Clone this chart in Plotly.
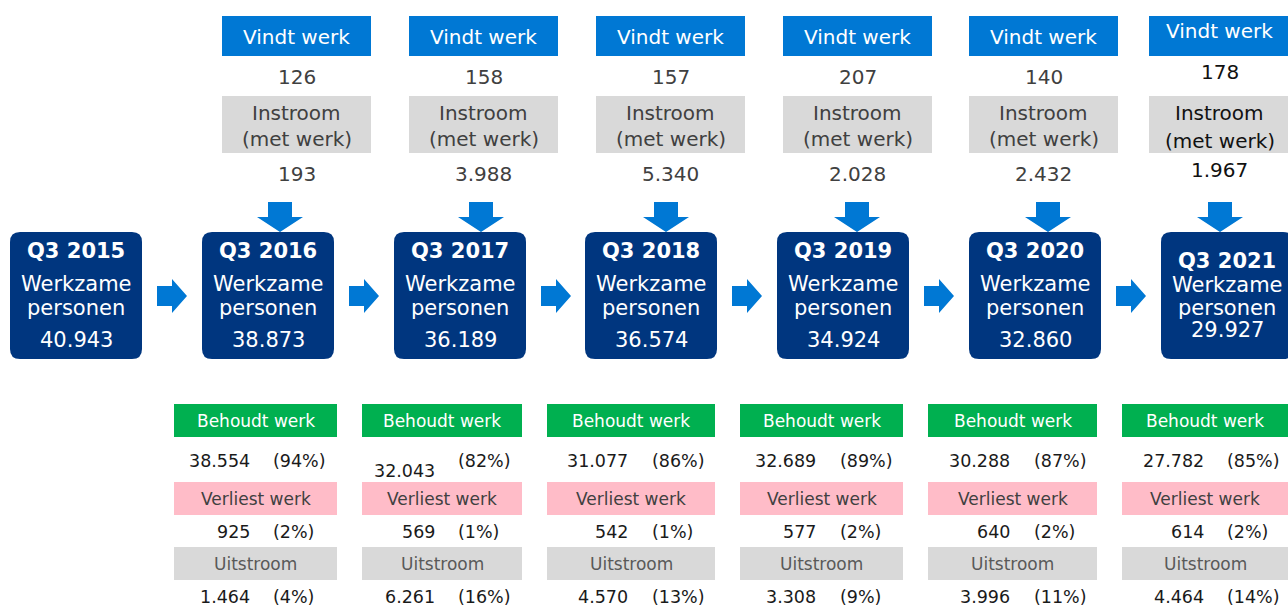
import plotly.graph_objects as go

# ---------------- data ----------------
quarters = ["Q3 2015", "Q3 2016", "Q3 2017", "Q3 2018", "Q3 2019", "Q3 2020", "Q3 2021"]
werkzame = [40943, 38873, 36189, 36574, 34924, 32860, 29927]
vindt_werk = [126, 158, 157, 207, 140, 178]
instroom = [193, 3988, 5340, 2028, 2432, 1967]
behoudt = [38554, 32043, 31077, 32689, 30288, 27782]
behoudt_pct = [94, 82, 86, 89, 87, 85]
verliest = [925, 569, 542, 577, 640, 614]
verliest_pct = [2, 1, 1, 2, 2, 2]
uitstroom = [1464, 6261, 4570, 3308, 3996, 4464]
uitstroom_pct = [4, 16, 13, 9, 11, 14]

# ---------------- layout (positions in page pixels) ----------------
W, H = 1288, 608
box_left = [10, 202, 394, 585, 777, 969, 1161]
box_w, box_top, box_bot = 132, 232, 359
top_left = [222, 409, 596, 783, 969, 1149]
top_w = 149
arrow_cx = [280, 481, 666, 857, 1048, 1220]
bot_left = [174, 362, 547, 740, 928, 1122]
bot_right = [337, 522, 715, 903, 1097, 1290]
val_right = [252, 437, 630, 818, 1012, 1206]
pct_left = [271, 456, 650, 838, 1032, 1225]

NAVY = "#00367F"
BLUE = "#0078D4"
GREEN = "#00B050"
PINK = "#FFBCC8"
GREY = "#D9D9D9"
FONT = "DejaVu Sans"


def fmt(v):
    return f"{v:,}".replace(",", ".")


shapes = []
annotations = []


def text(x, y, s, size, color, xanchor="center", bold=False):
    annotations.append(dict(
        x=x, y=y, xref="x", yref="y", text=f"<b>{s}</b>" if bold else s,
        showarrow=False, xanchor=xanchor, yanchor="middle",
        font=dict(family=FONT, size=size, color=color)))


def rect(x0, y0, x1, y1, color):
    shapes.append(dict(type="rect", xref="x", yref="y", x0=x0, y0=y0, x1=x1, y1=y1,
                       fillcolor=color, line=dict(width=0), layer="below"))


def rounded(x0, y0, x1, y1, r, color):
    p = (f"M {x0+r},{y0} L {x1-r},{y0} Q {x1},{y0} {x1},{y0+r} "
         f"L {x1},{y1-r} Q {x1},{y1} {x1-r},{y1} L {x0+r},{y1} "
         f"Q {x0},{y1} {x0},{y1-r} L {x0},{y0+r} Q {x0},{y0} {x0+r},{y0} Z")
    shapes.append(dict(type="path", xref="x", yref="y", path=p,
                       fillcolor=color, line=dict(width=0), layer="below"))


def path(pts, color):
    p = "M " + " L ".join(f"{x},{y}" for x, y in pts) + " Z"
    shapes.append(dict(type="path", xref="x", yref="y", path=p,
                       fillcolor=color, line=dict(width=0), layer="below"))


# dark boxes with Werkzame personen
for i, q in enumerate(quarters):
    x0 = box_left[i]
    cx = x0 + box_w / 2
    rounded(x0, box_top, x0 + box_w, box_bot, 10, NAVY)
    last = i == len(quarters) - 1
    ys = [261, 285, 308, 330] if last else [251, 284, 308, 340]
    text(cx, ys[0], q, 21, "white", bold=True)
    text(cx, ys[1], "Werkzame", 21, "white")
    text(cx, ys[2], "personen", 21, "white")
    text(cx, ys[3], fmt(werkzame[i]), 21, "white")
    # right arrow to next box
    if i < len(quarters) - 1:
        ax = x0 + box_w + 15
        cy = 296
        path([(ax, cy - 10), (ax + 15, cy - 10), (ax + 15, cy - 17), (ax + 30, cy),
              (ax + 15, cy + 17), (ax + 15, cy + 10), (ax, cy + 10)], BLUE)

# top columns: Vindt werk / Instroom and down arrows
for j in range(len(vindt_werk)):
    x0 = top_left[j]
    x1 = x0 + top_w
    last = j == len(vindt_werk) - 1
    cx = x0 + top_w / 2 - 4 if last else (x0 + x1) / 2
    rect(x0, 16, x1, 56, BLUE)
    rect(x0, 96, x1, 153, GREY)
    numcol = "#111111" if last else "#404040"
    text(cx, 31 if last else 37, "Vindt werk", 20, "white")
    text(cx, 72 if last else 77, fmt(vindt_werk[j]), 20, numcol)
    text(cx, 113, "Instroom", 20, numcol)
    text(cx, 141 if last else 139, "(met werk)", 20, numcol)
    text(cx, 170 if last else 174, fmt(instroom[j]), 20, numcol)
    a = arrow_cx[j]
    path([(a - 12, 202), (a + 12, 202), (a + 12, 217), (a + 23, 217), (a, 232),
          (a - 23, 217), (a - 12, 217)], BLUE)

# bottom columns: Behoudt / Verliest / Uitstroom
for j in range(len(behoudt)):
    x0, x1 = bot_left[j], bot_right[j]
    cx = (x0 + min(x1, W)) / 2
    rect(x0, 404, x1, 437, GREEN)
    rect(x0, 482, x1, 515, PINK)
    rect(x0, 547, x1, 580, GREY)
    text(cx, 421, "Behoudt werk", 17, "white")
    text(cx, 499, "Verliest werk", 17, "#404040")
    text(cx, 564, "Uitstroom", 17, "#595959")
    rows = [(behoudt[j], behoudt_pct[j], 461), (verliest[j], verliest_pct[j], 532),
            (uitstroom[j], uitstroom_pct[j], 597)]
    for k, (v, p, y) in enumerate(rows):
        vy = 471 if (k == 0 and j == 1) else y
        text(val_right[j], vy, fmt(v), 17.5, "#1a1a1a", xanchor="right")
        text(pct_left[j], y, f"({p}%)", 17.5, "#1a1a1a", xanchor="left")

fig = go.Figure()
fig.add_trace(go.Scatter(x=[0, W], y=[0, H], mode="markers",
                         marker=dict(opacity=0), hoverinfo="skip", showlegend=False))
fig.update_layout(
    width=W, height=H, margin=dict(l=0, r=0, t=0, b=0),
    paper_bgcolor="white", plot_bgcolor="white",
    xaxis=dict(range=[0, W], visible=False, fixedrange=True),
    yaxis=dict(range=[H, 0], visible=False, fixedrange=True),
    shapes=shapes, annotations=annotations, showlegend=False,
)
fig.write_html(
    "out.html", config={"displayModeBar": False},
    post_script="document.body.style.margin='0';document.body.style.overflow='hidden';",
)
